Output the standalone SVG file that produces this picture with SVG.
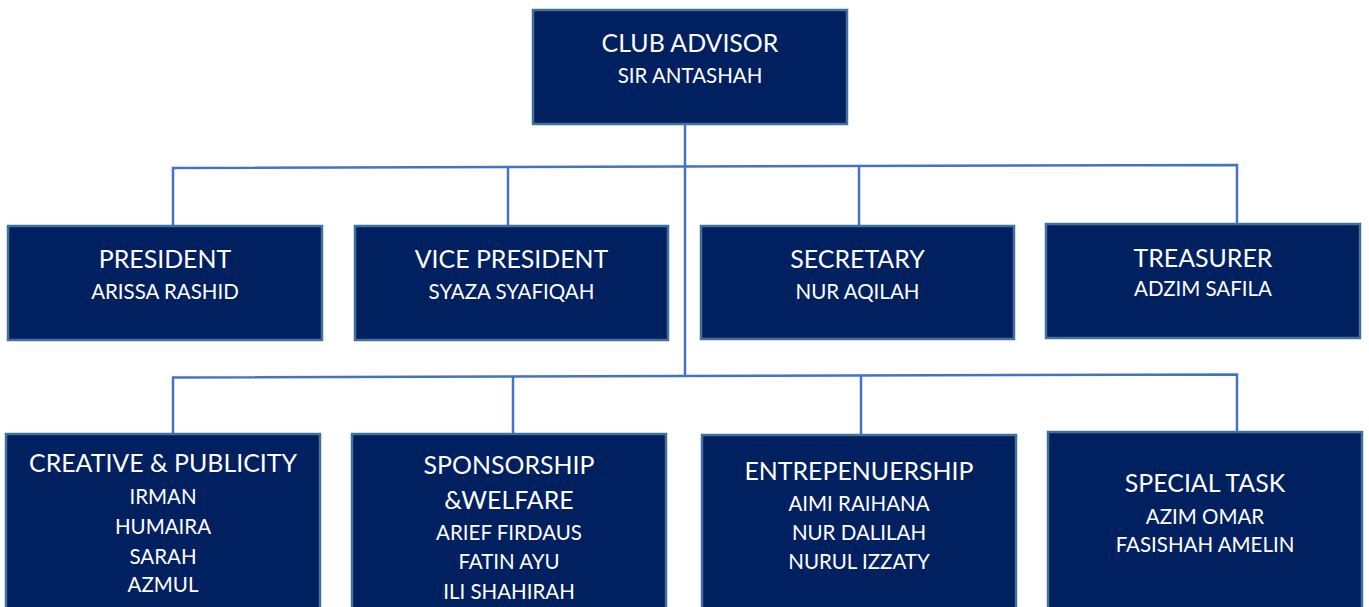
<svg xmlns="http://www.w3.org/2000/svg" width="1369" height="607" viewBox="0 0 1369 607">
  <style>
    .box { fill: #002060; stroke: #41719C; stroke-width: 2.5; }
    .link { fill: none; stroke: #4472C4; stroke-width: 2.5; }
    text { font-family: Lato, "Liberation Sans", sans-serif; fill: #FFFFFF; text-anchor: middle; }
    .title { font-size: 24.9px; }
    .name { font-size: 20.5px; }
  </style>
  <rect width="1369" height="607" fill="#FFFFFF"/>

  <!-- connectors -->
  <g id="connectors">
    <line class="link" x1="685" y1="124" x2="685" y2="377"/>
    <polyline class="link" points="173,226 173,168 1237,165 1237,224"/>
    <line class="link" x1="508" y1="167" x2="508" y2="226"/>
    <line class="link" x1="859" y1="166" x2="859" y2="226"/>
    <polyline class="link" points="173,434 173,377.5 1237,374.5 1237,432"/>
    <line class="link" x1="513" y1="377" x2="513" y2="434"/>
    <line class="link" x1="861" y1="376" x2="861" y2="434"/>
  </g>

  <!-- advisor -->
  <g id="club-advisor">
    <rect class="box" x="533" y="10" width="314" height="114"/>
    <text class="title" x="690" y="52">CLUB ADVISOR</text>
    <text class="name" x="690" y="83">SIR ANTASHAH</text>
  </g>

  <!-- office bearers -->
  <g id="president">
    <rect class="box" x="8" y="226" width="314" height="114"/>
    <text class="title" x="165" y="268">PRESIDENT</text>
    <text class="name" x="165" y="299">ARISSA RASHID</text>
  </g>
  <g id="vice-president">
    <rect class="box" x="355" y="226" width="313" height="114"/>
    <text class="title" x="511.5" y="268">VICE PRESIDENT</text>
    <text class="name" x="511.5" y="299">SYAZA SYAFIQAH</text>
  </g>
  <g id="secretary">
    <rect class="box" x="701" y="226" width="313" height="113"/>
    <text class="title" x="857.5" y="268">SECRETARY</text>
    <text class="name" x="857.5" y="299">NUR AQILAH</text>
  </g>
  <g id="treasurer">
    <rect class="box" x="1046" y="224" width="314" height="114"/>
    <text class="title" x="1203" y="266.5">TREASURER</text>
    <text class="name" x="1203" y="296">ADZIM SAFILA</text>
  </g>

  <!-- committees -->
  <g id="creative-publicity">
    <rect class="box" x="6" y="434" width="314" height="190"/>
    <text class="title" x="163" y="472">CREATIVE &amp; PUBLICITY</text>
    <text class="name" x="163" y="503.5">IRMAN</text>
    <text class="name" x="163" y="534">HUMAIRA</text>
    <text class="name" x="163" y="563.5">SARAH</text>
    <text class="name" x="163" y="592">AZMUL</text>
  </g>
  <g id="sponsorship-welfare">
    <rect class="box" x="352" y="434" width="314" height="190"/>
    <text class="title" x="509" y="473.5">SPONSORSHIP</text>
    <text class="title" x="509" y="508.5">&amp;WELFARE</text>
    <text class="name" x="509" y="540">ARIEF FIRDAUS</text>
    <text class="name" x="509" y="569">FATIN AYU</text>
    <text class="name" x="509" y="598.5">ILI SHAHIRAH</text>
  </g>
  <g id="entrepreneurship">
    <rect class="box" x="702" y="435" width="314" height="190"/>
    <text class="title" x="859" y="479.5">ENTREPENUERSHIP</text>
    <text class="name" x="859" y="511">AIMI RAIHANA</text>
    <text class="name" x="859" y="539.5">NUR DALILAH</text>
    <text class="name" x="859" y="568.5">NURUL IZZATY</text>
  </g>
  <g id="special-task">
    <rect class="box" x="1048" y="432" width="314" height="190"/>
    <text class="title" x="1205" y="492">SPECIAL TASK</text>
    <text class="name" x="1205" y="523.5">AZIM OMAR</text>
    <text class="name" x="1205" y="552">FASISHAH AMELIN</text>
  </g>
</svg>
